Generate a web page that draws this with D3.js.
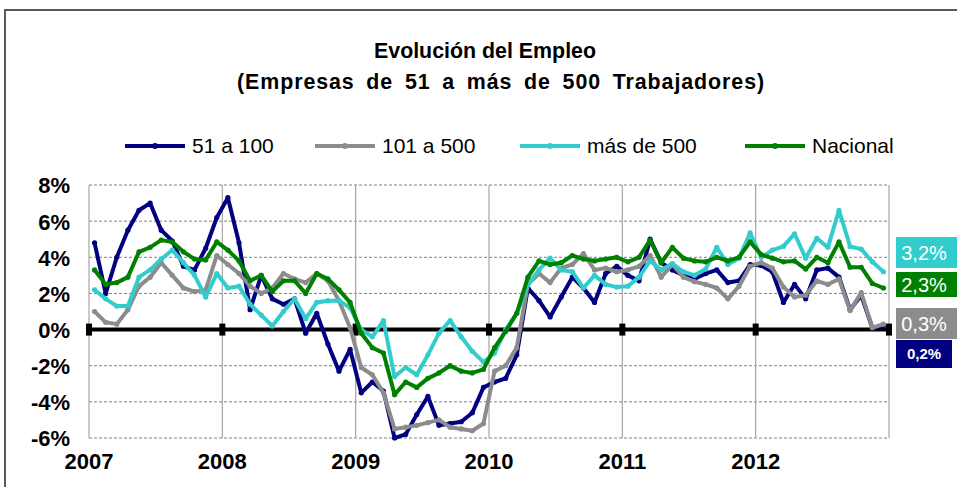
<!DOCTYPE html>
<html>
<head>
<meta charset="utf-8">
<script src="https://cdn.jsdelivr.net/npm/d3@7"></script>
<style>
  html, body { margin: 0; padding: 0; background: #fff; }
  text { font-family: Arial, "Liberation Sans", sans-serif; }
</style>
</head>
<body>
<script>
// Monthly series, Jan 2007 .. Dec 2012 (72 values each)
var s51a100 = [
	4.8, 2.0, 4.0, 5.5, 6.6, 7.0, 5.5, 4.9, 3.5, 3.3, 4.5, 6.2,
	7.3, 4.8, 1.1, 3.0, 1.7, 1.4, 1.7, -0.2, 0.9, -0.8, -2.3, -1.1,
	-3.5, -2.9, -3.4, -6.0, -5.8, -4.7, -3.7, -5.3, -5.2, -5.1, -4.6, -3.2,
	-2.9, -2.7, -1.4, 2.3, 1.6, 0.7, 1.8, 2.9, 2.3, 1.5, 3.1, 3.5,
	3.0, 2.7, 5.0, 3.7, 3.3, 3.0, 2.8, 3.1, 3.3, 2.6, 2.7, 3.6,
	3.55, 3.2, 1.5, 2.5, 1.7, 3.3, 3.4, 2.9, 1.1, 1.9, 0.1, 0.2
];
var s101a500 = [
	1.0, 0.4, 0.3, 1.1, 2.4, 2.9, 3.7, 3.0, 2.3, 2.1, 2.2, 4.1,
	3.6, 3.1, 2.4, 2.0, 2.3, 3.1, 2.8, 2.6, 3.1, 2.7, 1.6, 0.1,
	-2.1, -2.5, -3.5, -5.5, -5.4, -5.3, -5.15, -5.0, -5.4, -5.5, -5.6, -5.2,
	-2.3, -2.0, -1.0, 2.5, 3.1, 2.6, 3.4, 3.6, 4.2, 3.3, 3.4, 3.2,
	3.3, 3.5, 4.1, 2.9, 3.6, 2.9, 2.65, 2.5, 2.3, 1.7, 2.4, 3.5,
	3.7, 3.4, 2.35, 1.8, 1.9, 2.7, 2.5, 2.8, 1.05, 2.05, 0.1, 0.3
];
var sMas500 = [
	2.2, 1.7, 1.3, 1.3, 2.9, 3.3, 3.9, 4.4, 3.7, 3.0, 1.8, 3.1,
	2.3, 2.4, 1.4, 0.8, 0.2, 1.0, 1.7, 0.6, 1.5, 1.6, 1.6, 1.2,
	0.0, -0.4, 0.5, -2.6, -2.1, -2.5, -1.4, -0.2, 0.5, -0.4, -1.2, -1.8,
	-1.3, 0.0, 0.9, 2.5, 3.3, 3.95, 3.3, 3.2, 2.3, 3.0, 2.5, 2.35,
	2.4, 2.9, 3.8, 3.3, 3.65, 3.2, 3.0, 3.35, 4.55, 3.6, 3.95, 5.35,
	4.0, 4.4, 4.6, 5.3, 3.95, 5.05, 4.55, 6.6, 4.6, 4.45, 3.75, 3.2
];
var sNacional = [
	3.3, 2.5, 2.6, 2.9, 4.3, 4.55, 4.95, 4.85, 4.3, 3.9, 3.85, 4.85,
	4.4, 3.8, 2.7, 3.0, 2.1, 2.7, 2.7, 2.0, 3.1, 2.8, 2.2, 1.5,
	-0.2, -1.0, -1.3, -3.6, -2.9, -3.2, -2.7, -2.4, -2.0, -2.3, -2.4, -2.2,
	-1.0, -0.1, 0.9, 2.9, 3.8, 3.6, 3.7, 4.1, 3.9, 3.8, 3.9, 4.0,
	3.75, 4.0, 4.95, 3.7, 4.55, 3.95, 3.8, 3.75, 4.0, 3.8, 4.0, 4.85,
	4.15, 3.95, 3.75, 3.8, 3.35, 4.0, 3.7, 4.85, 3.45, 3.45, 2.55, 2.3
];
var seriesNames = ["51 a 100", "101 a 500", "más de 500", "Nacional"];
var seriesColors = ["#000080", "#8c8c8c", "#33cccc", "#008000"];
var years = ["2007", "2008", "2009", "2010", "2011", "2012"];
var yTicks = [-6, -4, -2, 0, 2, 4, 6, 8];
// last values shown in the boxes on the right (cyan, green, gray, navy)
var endLabels = ["3,2%", "2,3%", "0,3%", "0,2%"];

var width = 957, height = 487;
var svg = d3.select("body").append("svg")
	.attr("width", width)
	.attr("height", height);

// outer frame (only top and left edges visible)
svg.append("path")
	.attr("d", "M5,490 L5,10 L960,10")
	.attr("fill", "none")
	.attr("stroke", "#595959")
	.attr("stroke-width", 2);

// title: slightly condensed bold, second line a little more open
var title = svg.append("g")
	.style("font-weight", "bold")
	.style("font-size", "23px");
title.append("text")
	.attr("transform", "translate(485,58) scale(0.93,1)")
	.attr("text-anchor", "middle")
	.text("Evolución del Empleo");
var sub = title.append("text")
	.attr("transform", "translate(237,89) scale(0.93,1)")
	.style("letter-spacing", "1px")
	.text("(Empresas de 51 a más de 500 Trabajadores)");
var subNatural = sub.node().getComputedTextLength();
var gap = Math.max(0, (528 / 0.93 - subNatural) / 7);
sub.style("word-spacing", gap + "px");

var x = d3.scaleLinear().domain([0, 72]).range([89, 889]);
var y = d3.scaleLinear().domain([-6, 8]).range([438, 185]);

// horizontal dashed grid
svg.append("g")
	.selectAll("line")
	.data(yTicks.filter(function(d) { return d !== 0; }))
	.enter().append("line")
	.attr("x1", x(0)).attr("x2", x(72))
	.attr("y1", function(d) { return y(d); })
	.attr("y2", function(d) { return y(d); })
	.attr("stroke", "#808080")
	.attr("stroke-width", 1)
	.attr("stroke-dasharray", "3,2");

// vertical year lines
svg.append("g")
	.selectAll("line")
	.data(d3.range(0, 7))
	.enter().append("line")
	.attr("x1", function(d) { return x(d * 12); })
	.attr("x2", function(d) { return x(d * 12); })
	.attr("y1", y(8)).attr("y2", y(-6))
	.attr("stroke", "#a6a6a6")
	.attr("stroke-width", 1.2);

// y axis labels
var yAxis = svg.append("g")
	.attr("transform", "translate(" + (x(0) - 16) + ",0)")
	.call(d3.axisLeft(y).tickValues(yTicks).tickSize(0).tickFormat(function(d) { return d + "%"; }));
yAxis.select(".domain").remove();
yAxis.selectAll("text")
	.attr("dy", "0.36em")
	.style("font-family", "Arial, 'Liberation Sans', sans-serif")
	.style("font-size", "22px")
	.style("font-weight", "bold")
	.attr("fill", "#000");

// x axis year labels
svg.append("g")
	.selectAll("text")
	.data(years)
	.enter().append("text")
	.attr("x", function(d, i) { return x(i * 12); })
	.attr("y", 469)
	.attr("text-anchor", "middle")
	.style("font-size", "22px")
	.style("font-weight", "bold")
	.text(function(d) { return d; });

// zero line with tick marks
svg.append("line")
	.attr("x1", x(0)).attr("x2", x(72))
	.attr("y1", y(0)).attr("y2", y(0))
	.attr("stroke", "#000")
	.attr("stroke-width", 4);
svg.append("g")
	.selectAll("rect")
	.data(d3.range(0, 7))
	.enter().append("rect")
	.attr("x", function(d) { return x(d * 12) - 3; })
	.attr("y", y(0) - 6)
	.attr("width", 6)
	.attr("height", 12)
	.attr("fill", "#000");

// series
var allSeries = [s51a100, s101a500, sMas500, sNacional];
var line = d3.line()
	.x(function(d, i) { return x(i + 0.5); })
	.y(function(d) { return y(d); });

allSeries.forEach(function(vals, k) {
	var g = svg.append("g");
	g.append("path")
		.datum(vals)
		.attr("d", line)
		.attr("fill", "none")
		.attr("stroke", seriesColors[k])
		.attr("stroke-width", 4)
		.attr("stroke-linejoin", "round");
	g.selectAll("circle")
		.data(vals)
		.enter().append("circle")
		.attr("cx", function(d, i) { return x(i + 0.5); })
		.attr("cy", function(d) { return y(d); })
		.attr("r", 2.6)
		.attr("fill", seriesColors[k]);
});

// legend
var legendX = [125, 315, 520, 745];
var legend = svg.append("g");
seriesNames.forEach(function(name, k) {
	var lx = legendX[k];
	legend.append("line")
		.attr("x1", lx).attr("x2", lx + 60)
		.attr("y1", 146).attr("y2", 146)
		.attr("stroke", seriesColors[k])
		.attr("stroke-width", 4);
	legend.append("circle")
		.attr("cx", lx + 30).attr("cy", 146).attr("r", 3)
		.attr("fill", seriesColors[k]);
	legend.append("text")
		.attr("x", lx + 67).attr("y", 153)
		.style("font-size", "21px")
		.text(name);
});

// end-value boxes
var boxes = [
	{ y: 237, h: 31, w: 61, color: seriesColors[2], size: 20 },
	{ y: 272, h: 25, w: 61, color: seriesColors[3], size: 20 },
	{ y: 308, h: 31, w: 61, color: seriesColors[1], size: 20 },
	{ y: 340, h: 28, w: 56, color: seriesColors[0], size: 15 }
];
boxes.forEach(function(b, k) {
	svg.append("rect")
		.attr("x", 896).attr("y", b.y)
		.attr("width", b.w).attr("height", b.h)
		.attr("fill", b.color);
	svg.append("text")
		.attr("x", 924)
		.attr("y", b.y + b.h / 2)
		.attr("dy", "0.36em")
		.attr("text-anchor", "middle")
		.attr("fill", "#fff")
		.style("font-size", b.size + "px")
		.style("font-weight", k === 3 ? "bold" : "normal")
		.text(endLabels[k]);
});
</script>
</body>
</html>
